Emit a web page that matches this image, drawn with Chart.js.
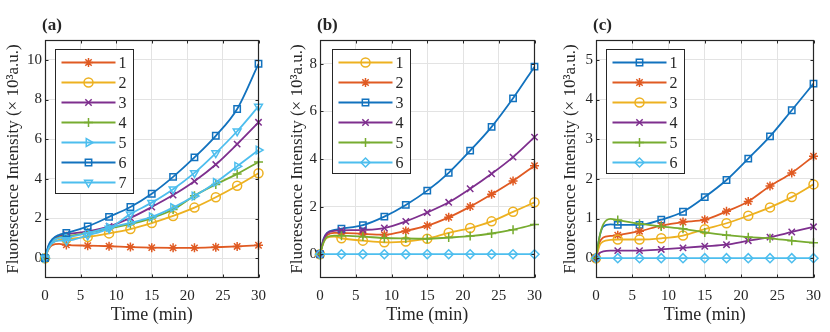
<!DOCTYPE html>
<html>
<head>
<meta charset="utf-8">
<script src="https://cdn.jsdelivr.net/npm/chart.js@4.4.0/dist/chart.umd.min.js"></script>
<style>
    html, body { margin: 0; padding: 0; background: #fff; }
    canvas { position: absolute; top: 0; }
</style>
</head>
<body>
<canvas id="panelA" width="275" height="332" style="left:0px"></canvas>
<canvas id="panelB" width="276" height="332" style="left:275px"></canvas>
<canvas id="panelC" width="279" height="332" style="left:551px"></canvas>
<script>
// time points (min), markers every 3 min
var times = [0, 0.5, 1, 2, 3, 6, 9, 12, 15, 18, 21, 24, 27, 30];
var timeTicks = [0, 5, 10, 15, 20, 25, 30];

// panel (a)
var a1 = [0, 0.45, 0.66, 0.72, 0.67, 0.63, 0.6, 0.56, 0.53, 0.52, 0.52, 0.55, 0.59, 0.65];
var a2 = [0, 0.5, 0.75, 0.92, 0.97, 1.07, 1.25, 1.47, 1.77, 2.13, 2.55, 3.07, 3.65, 4.28];
var a3 = [0, 0.6, 0.9, 1.12, 1.2, 1.35, 1.6, 2.03, 2.58, 3.18, 3.88, 4.72, 5.75, 6.85];
var a4 = [0, 0.55, 0.85, 1.05, 1.1, 1.28, 1.5, 1.72, 2.02, 2.45, 3.15, 3.72, 4.25, 4.85];
var a5 = [0, 0.55, 0.85, 1.02, 1.05, 1.27, 1.55, 1.78, 2.08, 2.55, 3.13, 3.82, 4.63, 5.45];
var a6 = [0, 0.65, 0.95, 1.18, 1.27, 1.6, 2.08, 2.58, 3.25, 4.1, 5.08, 6.17, 7.52, 9.8];
var a7 = [0, 0.5, 0.75, 0.88, 0.88, 1.15, 1.5, 2.22, 2.8, 3.48, 4.3, 5.3, 6.4, 7.65];
var ticksA = [0, 2, 4, 6, 8, 10];

// panel (b)
var b1 = [0, 0.5, 0.7, 0.74, 0.67, 0.57, 0.5, 0.53, 0.65, 0.9, 1.1, 1.38, 1.78, 2.18];
var b2 = [0, 0.55, 0.8, 0.9, 0.9, 0.85, 0.82, 0.98, 1.2, 1.55, 2.0, 2.52, 3.08, 3.72];
var b3 = [0, 0.65, 0.9, 1.02, 1.07, 1.22, 1.58, 2.07, 2.67, 3.42, 4.35, 5.35, 6.55, 7.88];
var b4 = [0, 0.62, 0.88, 0.98, 1.0, 1.02, 1.1, 1.38, 1.75, 2.18, 2.75, 3.38, 4.08, 4.92];
var b5 = [0, 0.5, 0.72, 0.78, 0.78, 0.74, 0.68, 0.66, 0.65, 0.7, 0.76, 0.87, 1.03, 1.25];
var b6 = [0, 0, 0, 0, 0, 0, 0, 0, 0, 0, 0, 0, 0, 0];
var ticksB = [0, 2, 4, 6, 8];

// panel (c)
var c1 = [0, 0.55, 0.8, 0.85, 0.84, 0.84, 0.97, 1.17, 1.54, 1.97, 2.51, 3.07, 3.73, 4.4];
var c2 = [0, 0.4, 0.52, 0.56, 0.58, 0.68, 0.82, 0.91, 0.97, 1.18, 1.43, 1.82, 2.15, 2.57];
var c3 = [0, 0.32, 0.42, 0.46, 0.47, 0.47, 0.5, 0.57, 0.73, 0.88, 1.07, 1.28, 1.54, 1.86];
var c4 = [0, 0.13, 0.17, 0.19, 0.19, 0.19, 0.22, 0.26, 0.3, 0.34, 0.44, 0.53, 0.66, 0.79];
var c5 = [0, 0.55, 0.85, 0.99, 0.96, 0.87, 0.8, 0.74, 0.65, 0.58, 0.53, 0.5, 0.44, 0.39];
var c6 = [0, 0, 0, 0, 0, 0, 0, 0, 0, 0, 0, 0, 0, 0];
var ticksC = [0, 1, 2, 3, 4, 5];

// matlab-ish colours
var BLUE = '#1272BE', ORANGE = '#E05A22', YELLOW = '#EDB120',
    PURPLE = '#7E2F8E', GREEN = '#77AC30', CYAN = '#4DBEEE';
var INK = '#262626';
var FONT = 'Liberation Serif, Times New Roman, serif';

// marker shapes
var STAR = { style: 'star', rot: 0 }, CIRCLE = { style: 'circle', rot: 0 },
    XMARK = { style: 'crossRot', rot: 0 }, PLUS = { style: 'cross', rot: 0 },
    RIGHT = { style: 'triangle', rot: 90 }, SQUARE = { style: 'rect', rot: 0 },
    DOWN = { style: 'triangle', rot: 180 }, DIAMOND = { style: 'rectRot', rot: 0 };

function series(label, values, color, marker, i) {
    return {
        label: label,
        data: times.map(function (t, k) { return { x: t, y: values[k] }; }),
        borderColor: color,
        backgroundColor: 'rgba(0,0,0,0)',
        borderWidth: 1.8,
        pointStyle: marker.style,
        pointRotation: marker.rot,
        pointRadius: function (ctx) {
            var t = times[ctx.dataIndex];
            return t % 3 === 0 ? 4.5 : 0;
        },
        pointBorderWidth: 1.5,
        pointBorderColor: color,
        pointBackgroundColor: 'rgba(0,0,0,0)',
        cubicInterpolationMode: 'monotone',
        clip: false,
        order: -i,
    };
}

// box, inward ticks, inside legend and panel letter
var framePlugin = {
    id: 'frame',
    afterDatasetsDraw: function (chart, args, opts) {
        var ctx = chart.ctx, a = chart.chartArea;
        var L = Math.round(a.left) + 0.5, R = Math.round(a.right) - 0.5;
        var T = Math.round(a.top) + 0.5, B = Math.round(a.bottom) - 0.5;
        ctx.save();
        ctx.strokeStyle = INK;
        ctx.lineWidth = 1;
        ctx.beginPath();
        chart.scales.x.ticks.forEach(function (tk) {
            var px = Math.round(chart.scales.x.getPixelForValue(tk.value)) + 0.5;
            ctx.moveTo(px, B); ctx.lineTo(px, B - 3);
            ctx.moveTo(px, T); ctx.lineTo(px, T + 3);
        });
        chart.scales.y.ticks.forEach(function (tk) {
            var py = Math.round(chart.scales.y.getPixelForValue(tk.value)) + 0.5;
            ctx.moveTo(L, py); ctx.lineTo(L + 3, py);
            ctx.moveTo(R, py); ctx.lineTo(R - 3, py);
        });
        ctx.stroke();
        ctx.lineWidth = 1.2;
        ctx.strokeRect(L, T, R - L, B - T);

        // legend
        var sets = chart.data.datasets;
        var lx = Math.round(a.left) + opts.legendDx + 0.5, ly = 49.5;
        var lw = 78, lh = sets.length * 20 + 4;
        ctx.fillStyle = '#fff';
        ctx.fillRect(lx, ly, lw, lh);
        ctx.strokeStyle = INK;
        ctx.lineWidth = 1;
        ctx.strokeRect(lx, ly, lw, lh);
        ctx.font = '16px ' + FONT;
        ctx.textBaseline = 'middle';
        ctx.textAlign = 'left';
        sets.forEach(function (ds, k) {
            var cy = ly + 13 + k * 20;
            ctx.strokeStyle = ds.borderColor;
            ctx.lineWidth = 1.8;
            ctx.beginPath();
            ctx.moveTo(lx + 6, cy); ctx.lineTo(lx + 60, cy);
            ctx.stroke();
            ctx.fillStyle = 'rgba(0,0,0,0)';
            ctx.lineWidth = 1.5;
            Chart.helpers.drawPoint(ctx, {
                pointStyle: ds.pointStyle, rotation: ds.pointRotation,
                radius: 4.5, borderWidth: 1.5
            }, lx + 33, cy);
            ctx.fillStyle = INK;
            ctx.fillText(ds.label, lx + 63, cy + 1);
        });

        // panel letter
        ctx.font = 'bold 17px ' + FONT;
        ctx.fillStyle = INK;
        ctx.fillText(opts.letter, Math.round(a.left) - 3, 26);
        ctx.restore();
    },
};

function panelConfig(datasets, yMin, yMax, yTicks, yWidth, padLeft, padRight, letter, legendDx) {
    return {
        type: 'line',
        data: { datasets: datasets },
        options: {
            responsive: false,
            animation: false,
            devicePixelRatio: 1,
            layout: { padding: { top: 40, left: padLeft, right: padRight, bottom: 0 } },
            plugins: {
                legend: { display: false },
                tooltip: { enabled: false },
                frame: { letter: letter, legendDx: legendDx },
            },
            scales: {
                x: {
                    type: 'linear',
                    min: 0,
                    max: 30,
                    afterBuildTicks: function (scale) {
                        scale.ticks = timeTicks.map(function (v) { return { value: v }; });
                    },
                    afterFit: function (scale) { scale.height = 54; },
                    grid: { color: '#e3e3e3', drawTicks: false },
                    border: { display: false },
                    ticks: { padding: 9, color: INK, font: { family: FONT, size: 15 }, maxRotation: 0 },
                    title: {
                        display: true,
                        text: 'Time (min)',
                        color: INK,
                        font: { family: FONT, size: 18 },
                        padding: { top: 0, bottom: 6 },
                    },
                },
                y: {
                    type: 'linear',
                    min: yMin,
                    max: yMax,
                    afterBuildTicks: function (scale) {
                        scale.ticks = yTicks.map(function (v) { return { value: v }; });
                    },
                    afterFit: function (scale) { scale.width = yWidth; },
                    grid: { color: '#e3e3e3', drawTicks: false },
                    border: { display: false },
                    ticks: { padding: 3, color: INK, font: { family: FONT, size: 15 } },
                    title: {
                        display: true,
                        text: 'Fluorescence Intensity (× 10³a.u.)',
                        color: INK,
                        font: { family: FONT, size: 17 },
                        padding: { top: 3, bottom: 0 },
                    },
                },
            },
        },
        plugins: [framePlugin],
    };
}

var chartA = new Chart(document.getElementById('panelA'), panelConfig([
    series('1', a1, ORANGE, STAR, 0),
    series('2', a2, YELLOW, CIRCLE, 1),
    series('3', a3, PURPLE, XMARK, 2),
    series('4', a4, GREEN, PLUS, 3),
    series('5', a5, CYAN, RIGHT, 4),
    series('6', a6, BLUE, SQUARE, 5),
    series('7', a7, CYAN, DOWN, 6),
], -1, 11, ticksA, 45, 0, 9, '(a)', 10));

var chartB = new Chart(document.getElementById('panelB'), panelConfig([
    series('1', b1, YELLOW, CIRCLE, 0),
    series('2', b2, ORANGE, STAR, 1),
    series('3', b3, BLUE, SQUARE, 2),
    series('4', b4, PURPLE, XMARK, 3),
    series('5', b5, GREEN, PLUS, 4),
    series('6', b6, CYAN, DIAMOND, 5),
], -1, 9, ticksB, 36, 9, 12, '(b)', 12));

var chartC = new Chart(document.getElementById('panelC'), panelConfig([
    series('1', c1, BLUE, SQUARE, 0),
    series('2', c2, ORANGE, STAR, 1),
    series('3', c3, YELLOW, CIRCLE, 2),
    series('4', c4, PURPLE, XMARK, 3),
    series('5', c5, GREEN, PLUS, 4),
    series('6', c6, CYAN, DIAMOND, 5),
], -0.5, 5.5, ticksC, 39, 6, 13, '(c)', 10));
</script>
</body>
</html>
